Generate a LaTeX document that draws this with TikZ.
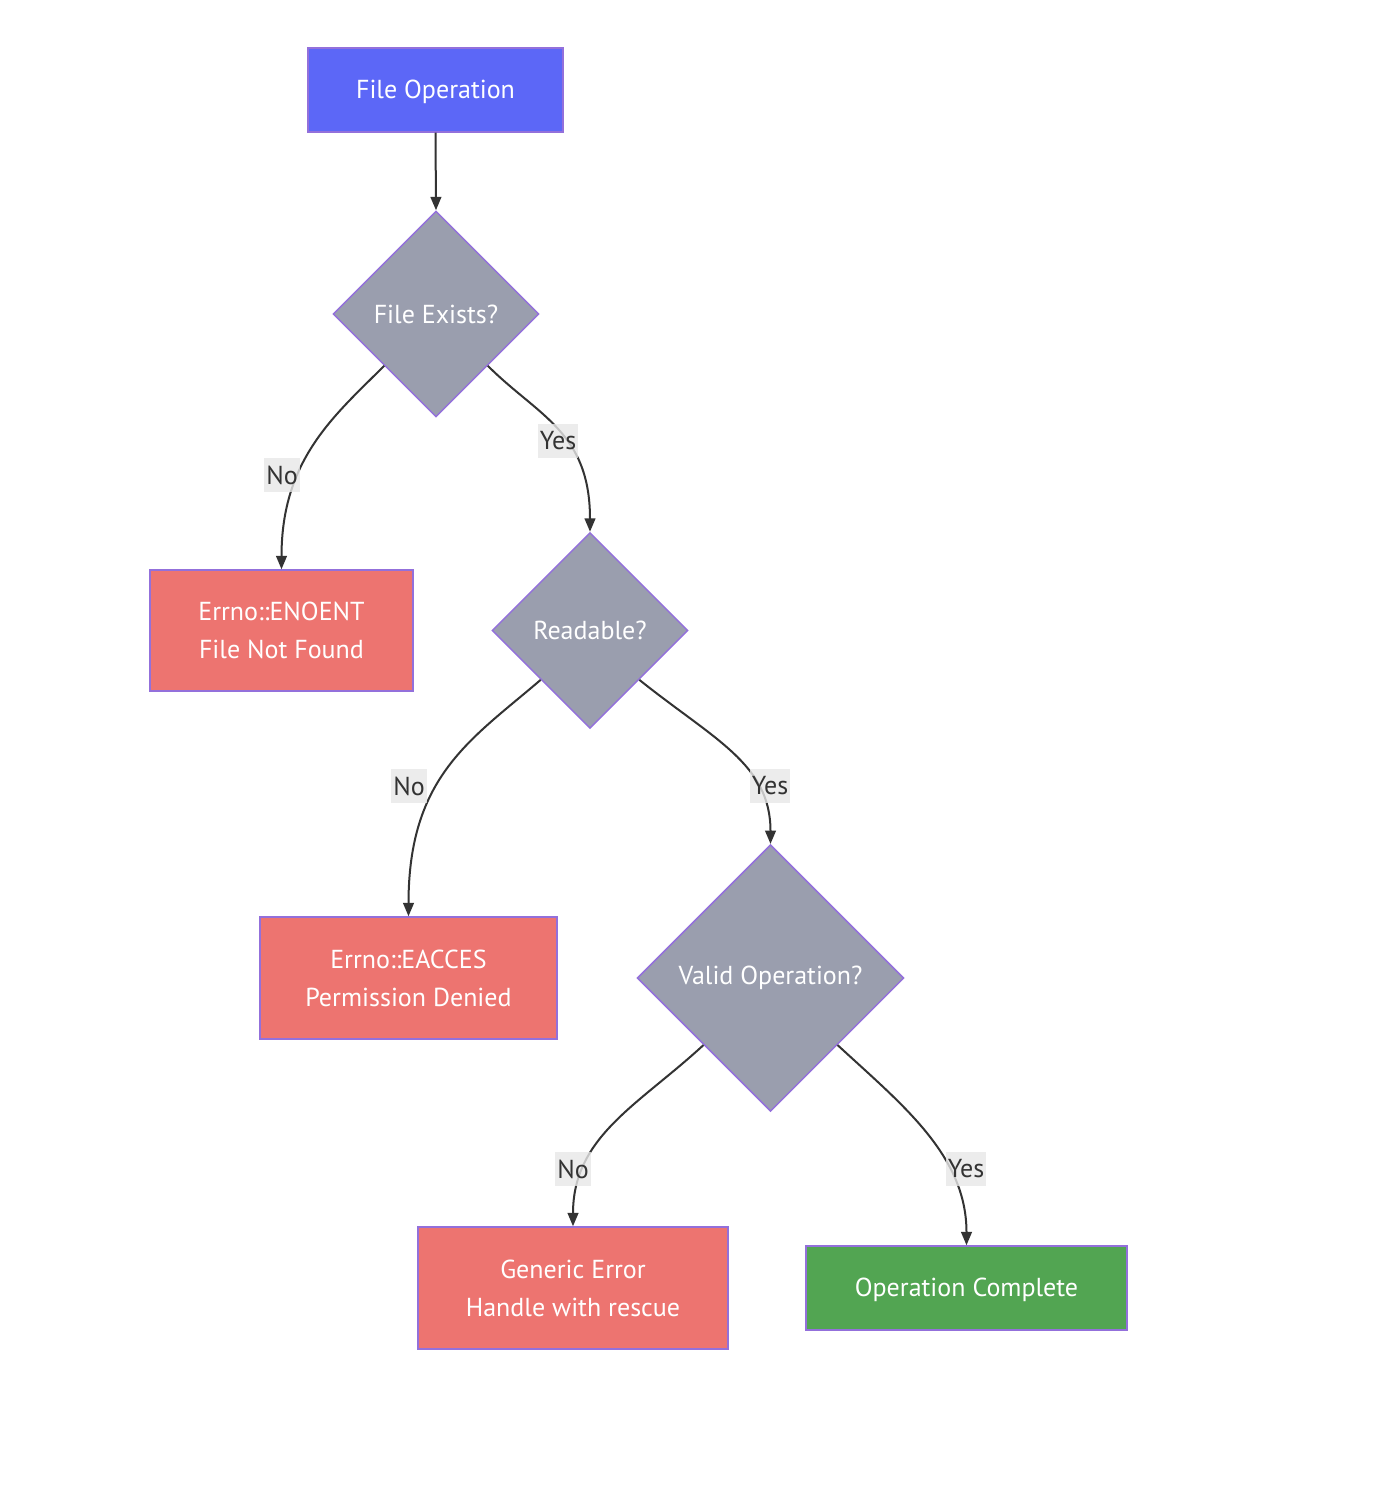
\documentclass[tikz,border=0pt]{standalone}
\usepackage{fontspec}
\setmainfont{PT Sans}
\usetikzlibrary{shapes.geometric,arrows.meta}

\definecolor{startblue}{RGB}{92,103,247}
\definecolor{decgray}{RGB}{154,158,174}
\definecolor{errred}{RGB}{237,116,112}
\definecolor{okgreen}{RGB}{82,165,82}
\definecolor{nodeborder}{RGB}{147,112,219}
\definecolor{edgegray}{RGB}{51,51,51}
\definecolor{labelbg}{RGB}{232,232,232}

\tikzset{every picture/.style={line width=0.75pt}}
\tikzset{
  flowtext/.style={font=\fontsize{19.5}{28.5}\selectfont, align=center},
  flowbox/.style={rectangle, draw=nodeborder, line width=1.1pt, inner sep=0pt, text=white, flowtext},
  startbox/.style={flowbox, fill=startblue, text depth=1.5pt},
  errbox/.style={flowbox, fill=errred},
  donebox/.style={flowbox, fill=okgreen, text depth=1.5pt},
  decision/.style={diamond, aspect=1, draw=nodeborder, fill=decgray, line width=1.1pt, inner sep=0pt, text=white, flowtext},
  flowline/.style={draw=edgegray, line width=1.5pt, -{Triangle[length=10pt,width=8pt]}},
  edgelabel/.style={rectangle, fill=labelbg, fill opacity=0.8, text opacity=1, text=edgegray, inner xsep=1.5pt, inner ysep=0pt, minimum height=26pt, flowtext}
}

\begin{document}
\begin{tikzpicture}[x=0.75pt,y=0.75pt,yscale=-1,xscale=1]
    \useasboundingbox[fill=white] (0,0) rectangle (1386,1508);

    %Shape: Rect [start]
    \node[startbox, minimum width=191.25pt, minimum height=63pt] (fileop) at (435.5,90) {File Operation};
    %Shape: Diamond [checks]
    \node[decision, minimum width=154.5pt, minimum height=154.5pt] (exists) at (436,314) {File Exists?};
    \node[decision, minimum width=147pt, minimum height=147pt] (readable) at (590,630.5) {Readable?};
    \node[decision, minimum width=200pt, minimum height=200pt] (validop) at (770.5,978) {Valid Operation?};
    %Shape: Rect [outcomes]
    \node[errbox, minimum width=197.25pt, minimum height=90.75pt] (enoent) at (281.5,630.5) {Errno::ENOENT\\File Not Found};
    \node[errbox, minimum width=222.75pt, minimum height=91.5pt] (eacces) at (408.5,978) {Errno::EACCES\\Permission Denied};
    \node[errbox, minimum width=232.5pt, minimum height=91.5pt] (generic) at (573,1288) {Generic Error\\Handle with rescue};
    \node[donebox, minimum width=240.75pt, minimum height=63pt] (complete) at (966.5,1288) {Operation Complete};

    %Straight Lines
    \draw[flowline] (fileop.south) -- (exists.north);
    %Curve Lines
    \draw[flowline] (exists.south west) .. controls +(-50,50) and +(0,-110) .. (enoent.north);
    \draw[flowline] (exists.south east) .. controls +(50,50) and +(0,-100) .. (readable.north);
    \draw[flowline] (readable.south west) .. controls +(-70,60) and +(0,-140) .. (eacces.north);
    \draw[flowline] (readable.south east) .. controls +(75,60) and +(0,-80) .. (validop.north);
    \draw[flowline] (validop.south west) .. controls +(-65,60) and +(0,-90) .. (generic.north);
    \draw[flowline] (validop.south east) .. controls +(65,60) and +(0,-90) .. (complete.north);

    % Text Node
    \node[edgelabel] (lbnoa) at (282,475) {No};
    \node[edgelabel] (lbyesa) at (558,441) {Yes};
    \node[edgelabel] (lbnob) at (409,786) {No};
    \node[edgelabel] (lbyesb) at (770,786) {Yes};
    \node[edgelabel] (lbnoc) at (573,1169) {No};
    \node[edgelabel] (lbyesc) at (966,1169) {Yes};
\end{tikzpicture}
\end{document}
